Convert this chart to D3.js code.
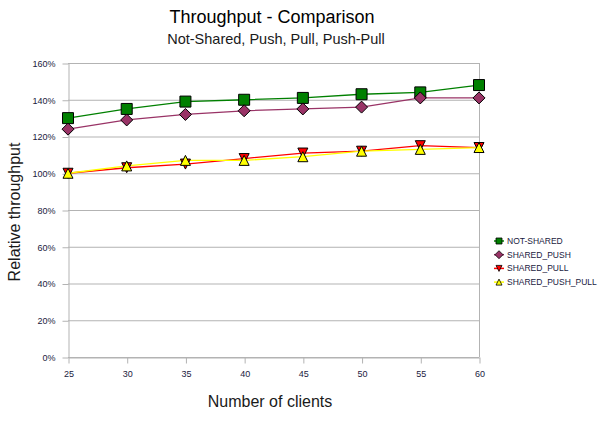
<!DOCTYPE html>
<html>
<head>
<meta charset="utf-8">
<script src="https://cdn.jsdelivr.net/npm/d3@7"></script>
<style>
  body { margin: 0; background: #fff; }
  svg { font-family: "Liberation Sans", Arial, sans-serif; display: block; }
  .grid line { stroke: #b3b3b3; }
  .axis path, .axis line { stroke: #b3b3b3; }
  .axis text { fill: #1a1a40; font-size: 9px; }
</style>
</head>
<body>
<div id="chart"></div>
<script>
const clients = [25, 30, 35, 40, 45, 50, 55, 60];
const notShared = [130, 135, 139, 140, 141, 143, 144, 148];
const sharedPush = [124, 129, 132, 134, 135, 136, 141, 141];
const sharedPull = [100, 103, 105, 108, 111, 112, 115, 114];
const sharedPushPull = [100, 104, 107, 107, 109, 112, 113, 114];
const yTicks = [0, 20, 40, 60, 80, 100, 120, 140, 160];

const series = [
  { name: "NOT-SHARED", values: notShared, color: "#008000", symbol: "square" },
  { name: "SHARED_PUSH", values: sharedPush, color: "#993366", symbol: "diamond" },
  { name: "SHARED_PULL", values: sharedPull, color: "#ff0000", symbol: "down" },
  { name: "SHARED_PUSH_PULL", values: sharedPushPull, color: "#ffff00", symbol: "up" },
];

const width = 613, height = 423;
const margin = { top: 63, right: 134, bottom: 66, left: 68 };
const innerW = width - margin.left - margin.right;
const innerH = height - margin.top - margin.bottom;

const svg = d3.select("#chart").append("svg")
  .attr("width", width).attr("height", height);

const x = d3.scaleLinear().domain([25, 60]).range([0, innerW]);
const y = d3.scaleLinear().domain([0, 160]).range([innerH, 0]);

const g = svg.append("g").attr("transform", `translate(${margin.left},${margin.top})`);

// gridlines
g.append("g").attr("class", "grid")
  .selectAll("line").data(yTicks).join("line")
  .attr("x1", 0).attr("x2", innerW)
  .attr("y1", (d) => y(d) + 0.5).attr("y2", (d) => y(d) + 0.5);

g.append("line")
  .attr("x1", innerW + 0.5).attr("x2", innerW + 0.5)
  .attr("y1", 0).attr("y2", innerH)
  .attr("stroke", "#b3b3b3");

g.append("g").attr("class", "axis")
  .attr("transform", "translate(0.5,0.5)")
  .call(d3.axisLeft(y).tickValues(yTicks).tickFormat((d) => d + "%").tickSize(6).tickSizeOuter(0).tickPadding(7));

g.append("g").attr("class", "axis")
  .attr("transform", `translate(0.5,${innerH + 0.5})`)
  .call(d3.axisBottom(x).tickValues(clients).tickSize(6).tickSizeOuter(0).tickPadding(7));

// symbols
function symbolPath(type, s) {
  const h = s / 2;
  if (type === "square") return `M${-h},${-h}H${h}V${h}H${-h}Z`;
  if (type === "diamond") return `M0,${-h - 1}L${h + 1},0L0,${h + 1}L${-h - 1},0Z`;
  if (type === "down") return `M${-h},${-h}H${h}L0,${h}Z`;
  return `M0,${-h}L${h},${h}H${-h}Z`;
}

const line = d3.line().x((d, i) => x(clients[i])).y((d) => y(d));

series.forEach((s) => {
  g.append("path")
    .datum(s.values)
    .attr("fill", "none")
    .attr("stroke", s.color)
    .attr("stroke-width", 1.3)
    .attr("d", line);
});

series.forEach((s) => {
  g.append("g").selectAll("path").data(s.values).join("path")
    .attr("transform", (d, i) => `translate(${x(clients[i])},${y(d)})`)
    .attr("d", symbolPath(s.symbol, s.symbol === "square" ? 11 : 10))
    .attr("fill", s.color)
    .attr("stroke", "#000")
    .attr("stroke-width", 1);
});

// titles
svg.append("text")
  .attr("x", 272).attr("y", 23)
  .attr("text-anchor", "middle")
  .attr("font-size", 18)
  .attr("fill", "#000")
  .text("Throughput - Comparison");

svg.append("text")
  .attr("x", 276).attr("y", 44)
  .attr("text-anchor", "middle")
  .attr("font-size", 14.5)
  .attr("fill", "#1a1a1a")
  .text("Not-Shared, Push, Pull, Push-Pull");

svg.append("text")
  .attr("x", 270).attr("y", 407)
  .attr("text-anchor", "middle")
  .attr("font-size", 16)
  .attr("fill", "#1a1a1a")
  .text("Number of clients");

svg.append("text")
  .attr("transform", "translate(20,212) rotate(-90)")
  .attr("text-anchor", "middle")
  .attr("font-size", 16)
  .attr("fill", "#1a1a1a")
  .text("Relative throughput");

// legend
const legend = svg.append("g").attr("transform", "translate(499,241)");
const item = legend.selectAll("g").data(series).join("g")
  .attr("transform", (d, i) => `translate(0,${i * 13.7})`);

item.append("line")
  .attr("x1", -5).attr("x2", 5)
  .attr("stroke", (d) => d.color)
  .attr("stroke-width", 1.5);

item.append("path")
  .attr("d", (d) => symbolPath(d.symbol, 6))
  .attr("fill", (d) => d.color)
  .attr("stroke", "#000")
  .attr("stroke-width", 0.8);

item.append("text")
  .attr("x", 8).attr("dy", "0.35em")
  .attr("font-size", 8.5)
  .attr("fill", "#1a1a40")
  .text((d) => d.name);
</script>
</body>
</html>
